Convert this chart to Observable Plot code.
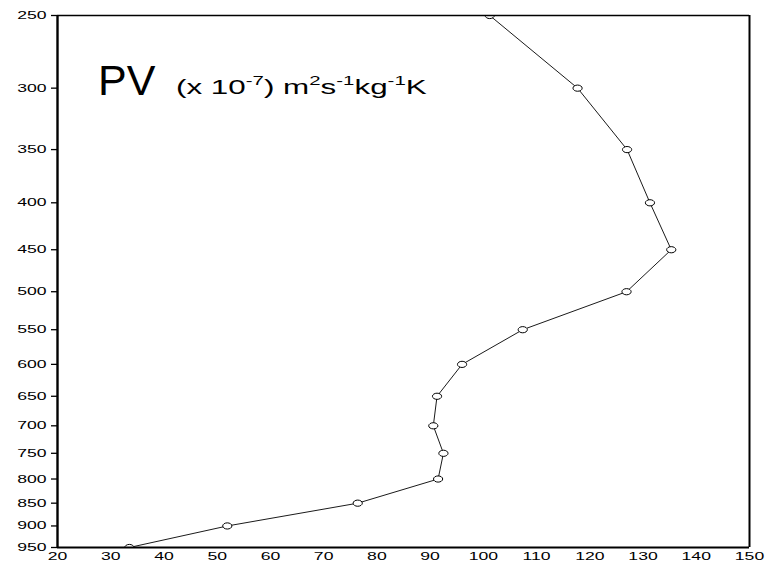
<!DOCTYPE html>
<html><head><meta charset="utf-8">
<script src="https://cdn.jsdelivr.net/npm/d3@7"></script>
<script src="https://cdn.jsdelivr.net/npm/@observablehq/plot@0.6"></script>
<style>html,body{margin:0;padding:0;background:#fff}svg{display:block}</style>
</head><body><div id="chart"></div>
<script>
const pressure = [250, 300, 350, 400, 450, 500, 550, 600, 650, 700, 750, 800, 850, 900, 950];
const pv = [101.2, 117.7, 127.0, 131.3, 135.3, 126.9, 107.4, 96.0, 91.3, 90.6, 92.5, 91.5, 76.4, 51.9, 33.5];
const xTicks = [20, 30, 40, 50, 60, 70, 80, 90, 100, 110, 120, 130, 140, 150];
const yTicks = [250, 300, 350, 400, 450, 500, 550, 600, 650, 700, 750, 800, 850, 900, 950];
const titleMain = "PV";
const titleParts = [["(x 10", 0], ["-7", 1], [") m", 0], ["2", 1], ["s", 0], ["-1", 1], ["kg", 0], ["-1", 1], ["K", 0]];

const data = pressure.map((p, i) => ({p, v: pv[i]}));

// open ellipse marker, wider than tall
const ellipse = {
  draw(ctx, size) {
    const rx = 4.6, ry = 3.1, k = 0.5523;
    ctx.moveTo(rx, 0);
    ctx.bezierCurveTo(rx, ry * k, rx * k, ry, 0, ry);
    ctx.bezierCurveTo(-rx * k, ry, -rx, ry * k, -rx, 0);
    ctx.bezierCurveTo(-rx, -ry * k, -rx * k, -ry, 0, -ry);
    ctx.bezierCurveTo(rx * k, -ry, rx, -ry * k, rx, 0);
    ctx.closePath();
  }
};

const chart = Plot.plot({
  width: 775,
  height: 570,
  marginLeft: 57,
  marginRight: 26,
  marginTop: 15,
  marginBottom: 23,
  style: {fontFamily: "Liberation Sans, Arial, sans-serif", fontSize: "11px", color: "#000", background: "#fff"},
  x: {domain: [20, 150]},
  y: {type: "log", domain: [250, 950], reverse: true},
  marks: [
    Plot.axisX(xTicks, {tickSize: 0, tickPadding: 5, fontSize: 11, label: null, fill: "#000"}),
    Plot.axisY(yTicks, {tickSize: 6, tickPadding: 5, fontSize: 11, label: null, fill: "#000", stroke: "#000", strokeWidth: 1.3, tickFormat: d => String(d)}),
    Plot.line(data, {x: "v", y: "p", stroke: "#000", strokeWidth: 0.9, clip: true}),
    Plot.dot(data, {x: "v", y: "p", symbol: ellipse, r: 4, stroke: "#000", strokeWidth: 1, fill: "#fff", clip: true}),
    Plot.ruleY([250], {stroke: "#000", strokeWidth: 1.3}),
    Plot.ruleY([950], {stroke: "#000", strokeWidth: 2}),
    Plot.ruleX([20], {stroke: "#000", strokeWidth: 2.4}),
    Plot.ruleX([150], {stroke: "#000", strokeWidth: 2})
  ]
});

// widen tick label glyphs horizontally (anchor kept in place)
d3.select(chart).selectAll("[aria-label='x-axis tick label'] text, [aria-label='y-axis tick label'] text")
  .each(function () {
    const el = d3.select(this);
    const tr = el.attr("transform");
    if (tr) el.attr("transform", tr + " scale(1.6,1)");
    else {
      const x = +el.attr("x") || 0, y = +el.attr("y") || 0;
      el.attr("transform", `translate(${x},${y}) scale(1.6,1) translate(${-x},${-y})`);
    }
  });

const svg = d3.select(chart);
svg.append("text")
  .attr("x", 98).attr("y", 94.5)
  .attr("text-anchor", "start")
  .attr("font-family", "Liberation Sans, Arial, sans-serif")
  .attr("font-size", 43)
  .attr("fill", "#000")
  .text(titleMain);
const t = svg.append("text")
  .attr("transform", "translate(176,93.5) scale(1.57,1)")
  .attr("text-anchor", "start")
  .attr("font-family", "Liberation Sans, Arial, sans-serif")
  .attr("fill", "#000");
for (const [s, sup] of titleParts) {
  const ts = t.append("tspan").attr("font-size", sup ? 13 : 20);
  if (sup) ts.attr("baseline-shift", "8.5");
  ts.text(s);
}

document.getElementById("chart").append(chart);
</script>
</body></html>
